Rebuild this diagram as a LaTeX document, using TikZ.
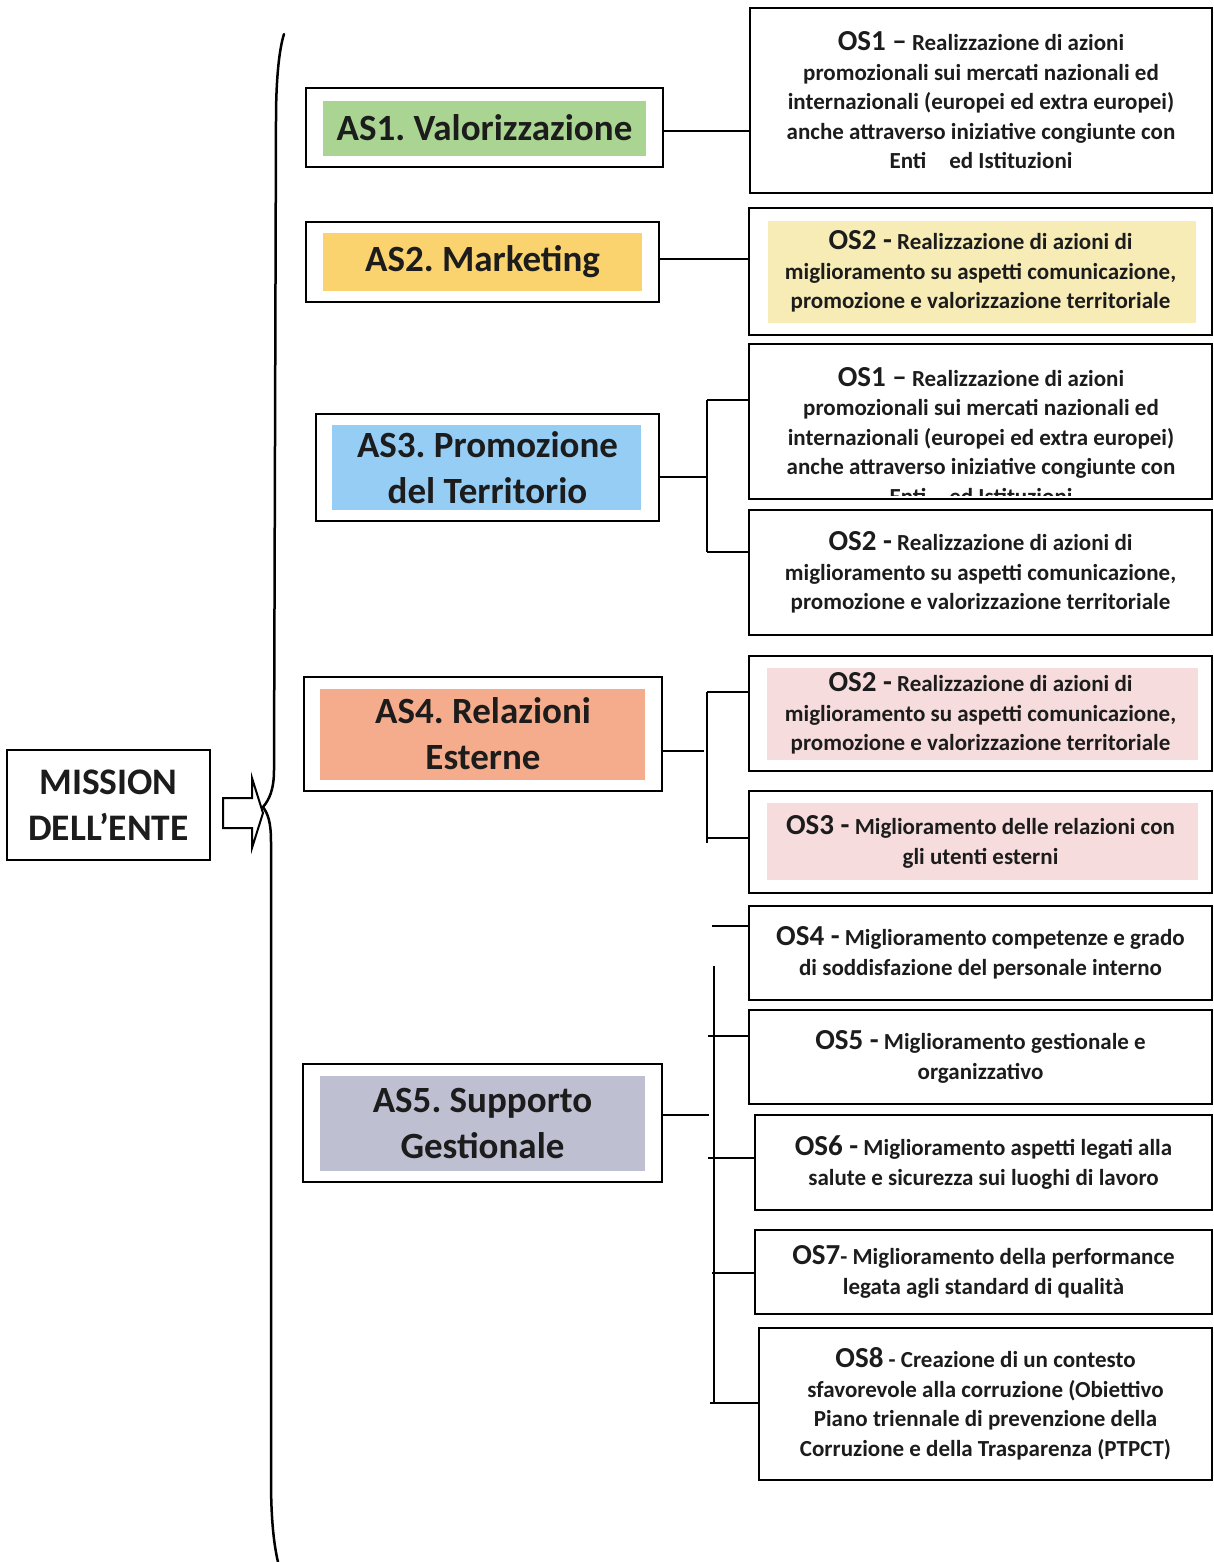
\documentclass[tikz,border=0pt]{standalone}
\usepackage{fontspec}
\setmainfont{Carlito}
\frenchspacing
\definecolor{txt}{RGB}{28,28,28}
\definecolor{asgreen}{RGB}{170,212,145}
\definecolor{asyellow}{RGB}{250,210,110}
\definecolor{asblue}{RGB}{150,205,245}
\definecolor{assalmon}{RGB}{245,172,140}
\definecolor{asgray}{RGB}{190,192,210}
\definecolor{ospale}{RGB}{247,236,182}
\definecolor{ospink}{RGB}{246,220,220}
\newcommand\osh[1]{{\fontsize{29}{29.5}\selectfont #1}}
\begin{document}
\begin{tikzpicture}[x=1pt,y=-1pt,
  boxline/.style={draw=black, line width=2.5pt},
  asbox/.style={boxline, inner sep=0pt, align=center, text=txt,
     font=\fontsize{37}{46}\selectfont\bfseries},
  osbox/.style={boxline, inner sep=0pt, align=center, text=txt,
     font=\fontsize{23}{29.5}\selectfont\bfseries},
  ostext/.style={inner sep=0pt, align=center, text=txt,
     font=\fontsize{23}{29.5}\selectfont\bfseries},
  conn/.style={draw=black, line width=2pt}]
\useasboundingbox (0,0) rectangle (1214,1562);

% inner colour fills
\fill[asgreen]  (323,101) rectangle (646,156);
\fill[asyellow] (323,233) rectangle (642,291);
\fill[asblue]   (332,425) rectangle (641,510);
\fill[assalmon] (320,689) rectangle (645,780);
\fill[asgray]   (320,1076) rectangle (645,1171);
\fill[ospale]   (768,221) rectangle (1196,323);
\fill[ospink]   (767,668) rectangle (1198,760);
\fill[ospink]   (767,803) rectangle (1198,880);

% mission
\node[asbox, font=\fontsize{37.5}{46}\selectfont\bfseries, minimum width=203, minimum height=110] (mission) at (108.5,805) {MISSION\\DELL’ENTE};

% hollow arrow
\draw[line width=2pt, line join=miter] (223,798) -- (252,798) -- (252,778) -- (263,813) -- (252,848) -- (252,828) -- (223,828) -- cycle;

% brace
\draw[line width=2.5pt, line cap=round] (284,34) .. controls (279,50) and (276,80) .. (276,120) -- (274,770) .. controls (274,790) and (269,800) .. (263,807) .. controls (268,814) and (271,822) .. (271,842) -- (271,1480) .. controls (271,1520) and (274,1545) .. (278,1562);

% AS boxes
\node[asbox, minimum width=357, minimum height=79] (as1) at (484.5,127.5) {AS1. Valorizzazione};
\node[asbox, minimum width=353, minimum height=80] (as2) at (482.5,262) {AS2. Marketing};
\node[asbox, minimum width=343, minimum height=107] (as3) at (487.5,467.5) {AS3. Promozione\\del Territorio};
\node[asbox, minimum width=358, minimum height=114] (as4) at (483,734) {AS4. Relazioni\\Esterne};
\node[asbox, minimum width=359, minimum height=118] (as5) at (482.5,1123) {AS5. Supporto\\Gestionale};

% OS boxes
\node[osbox, minimum width=462, minimum height=185] (os1a) at (981,100.5) {\osh{OS1 –} Realizzazione di azioni\\promozionali sui mercati nazionali ed\\internazionali (europei ed extra europei)\\anche attraverso iniziative congiunte con\\Enti\quad ed Istituzioni};
\node[osbox, minimum width=463, minimum height=127] (os2a) at (980.5,271.5) {\osh{OS2 -} Realizzazione di azioni di\\miglioramento su aspetti comunicazione,\\promozione e valorizzazione territoriale};
\node[osbox, minimum width=463, minimum height=155] (os1b) at (980.5,421.5) {};
\begin{scope}
  \clip (751,346) rectangle (1210,495);
  \node[ostext] (os1btext) at (981,436) {\osh{OS1 –} Realizzazione di azioni\\promozionali sui mercati nazionali ed\\internazionali (europei ed extra europei)\\anche attraverso iniziative congiunte con\\Enti\quad ed Istituzioni};
\end{scope}
\node[osbox, minimum width=463, minimum height=125] (os2b) at (980.5,572.5) {\osh{OS2 -} Realizzazione di azioni di\\miglioramento su aspetti comunicazione,\\promozione e valorizzazione territoriale};
\node[osbox, minimum width=463, minimum height=115] (os2c) at (980.5,713.5) {\osh{OS2 -} Realizzazione di azioni di\\miglioramento su aspetti comunicazione,\\promozione e valorizzazione territoriale};
\node[osbox, minimum width=463, minimum height=102] (os3) at (980.5,842) {\osh{OS3 -} Miglioramento delle relazioni con\\gli utenti esterni};
\node[osbox, minimum width=463, minimum height=94] (os4) at (980.5,953) {\osh{OS4 -} Miglioramento competenze e grado\\di soddisfazione del personale interno};
\node[osbox, minimum width=463, minimum height=94] (os5) at (980.5,1057) {\osh{OS5 -} Miglioramento gestionale e\\organizzativo};
\node[osbox, minimum width=457, minimum height=95] (os6) at (983.5,1162.5) {\osh{OS6 -} Miglioramento aspetti legati alla\\salute e sicurezza sui luoghi di lavoro};
\node[osbox, minimum width=457, minimum height=84] (os7) at (983.5,1272) {\osh{OS7}- Miglioramento della performance\\legata agli standard di qualità};
\node[osbox, minimum width=453, minimum height=152] (os8) at (985.5,1404) {\osh{OS8} - Creazione di un contesto\\sfavorevole alla corruzione (Obiettivo\\Piano triennale di prevenzione della\\Corruzione e della Trasparenza (PTPCT)};

% connectors AS1, AS2
\draw[conn] (as1.east |- 0,131) -- (os1a.west |- 0,131);
\draw[conn] (as2.east |- 0,259) -- (os2a.west |- 0,259);

% AS3 bracket
\coordinate (b3t) at (707,400);
\coordinate (b3b) at (707,552);
\coordinate (b3m) at (707,477);
\draw[conn] (as3.east |- b3m) -- (b3m);
\draw[conn] (b3t) -- (b3b);
\draw[conn] (b3t) -- (os1b.west |- b3t);
\draw[conn] (b3b) -- (os2b.west |- b3b);

% AS4 bracket
\coordinate (b4t) at (707,692);
\coordinate (b4b) at (707,843);
\coordinate (b4m) at (704,751);
\draw[conn] (as4.east |- b4m) -- (b4m);
\draw[conn] (b4t) -- (b4b);
\draw[conn] (b4t) -- (os2c.west |- b4t);
\draw[conn] (707,838) -- (os3.west |- 0,838);

% AS5 bracket
\coordinate (b5t) at (714,966);
\coordinate (b5b) at (714,1403);
\coordinate (b5m) at (709,1115);
\coordinate (t4) at (712,926);
\coordinate (t5) at (708,1036);
\coordinate (t6) at (708,1158);
\coordinate (t7) at (712,1273);
\coordinate (t8) at (710,1403);
\draw[conn] (as5.east |- b5m) -- (b5m);
\draw[conn] (b5t) -- (b5b);
\draw[conn] (t4) -- (os4.west |- t4);
\draw[conn] (t5) -- (os5.west |- t5);
\draw[conn] (t6) -- (os6.west |- t6);
\draw[conn] (t7) -- (os7.west |- t7);
\draw[conn] (t8) -- (os8.west |- t8);
\end{tikzpicture}
\end{document}
